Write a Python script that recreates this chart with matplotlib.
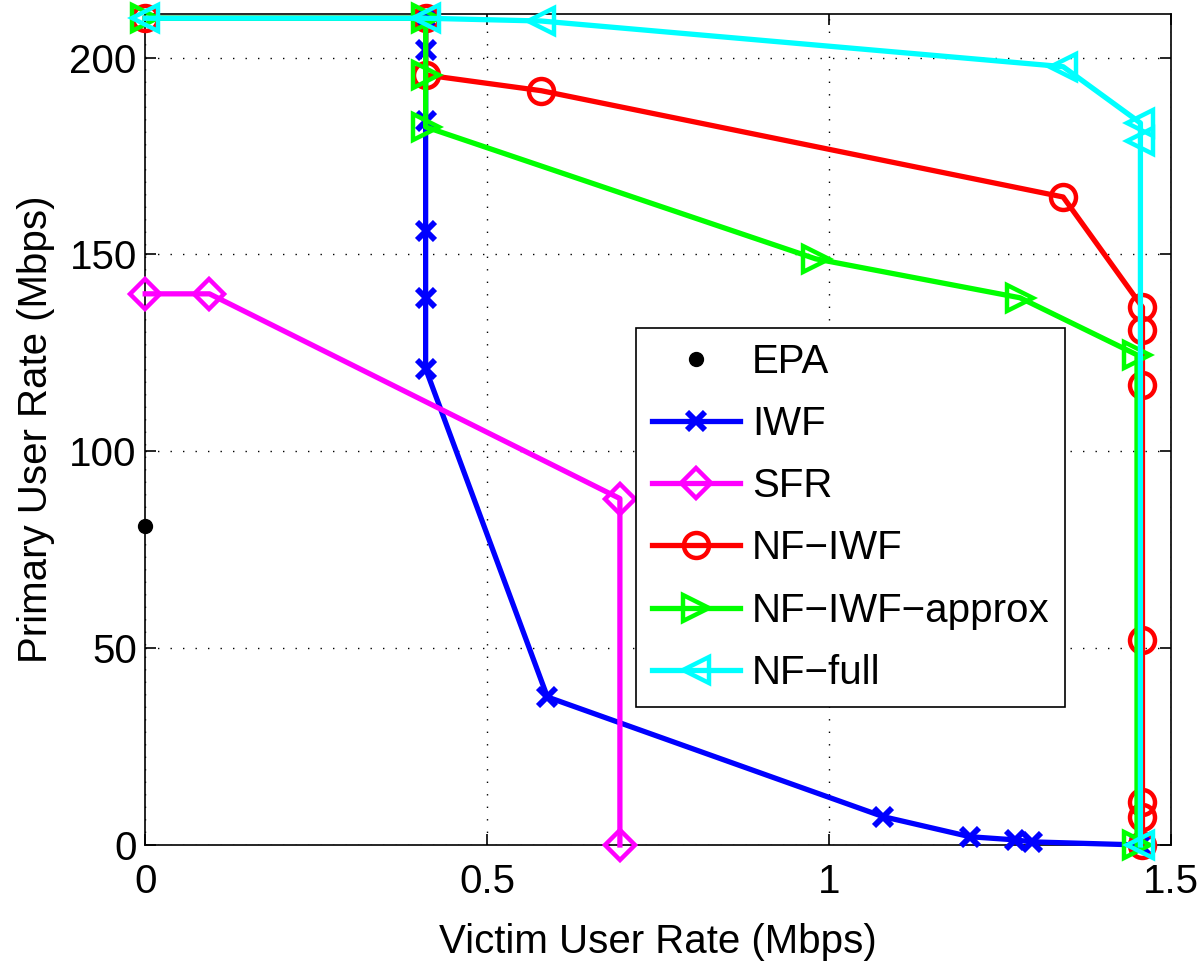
import matplotlib
matplotlib.use("Agg")
import matplotlib.pyplot as plt

plt.rcParams['font.family'] = ['Liberation Sans', 'DejaVu Sans']

epa_x = [0.0]
epa_y = [81]

iwf_x = [0.41, 0.41, 0.41, 0.41, 0.41, 0.41, 0.588, 1.079, 1.206, 1.272, 1.296, 1.455]
iwf_y = [210, 202, 184, 156, 139, 121, 37.6, 7.2, 2.1, 1.3, 0.8, 0.0]

sfr_x = [0.0, 0.094, 0.694, 0.694]
sfr_y = [140, 140, 88, 0]

nfiwf_x = [0.0, 0.41, 0.41, 0.579, 1.342, 1.458, 1.458, 1.458, 1.458, 1.458, 1.458, 1.458]
nfiwf_y = [210, 210, 195.6, 191.6, 164.6, 136.6, 130.8, 116.9, 52, 10.8, 7.2, 0.0]

approx_x = [0.0, 0.41, 0.41, 0.41, 0.98, 1.279, 1.45, 1.45]
approx_y = [210, 210, 195.6, 182.4, 148.9, 139, 124.5, 0.0]

full_x = [0.0, 0.41, 0.579, 1.342, 1.455, 1.455, 1.455]
full_y = [210, 210, 209.3, 197.7, 183.4, 178.8, 0.0]

labels = ['EPA', 'IWF', 'SFR', 'NF\u2212IWF', 'NF\u2212IWF\u2212approx', 'NF\u2212full']
xticks = [0, 0.5, 1, 1.5]
xticklabels = ['0', '0.5', '1', '1.5']
yticks = [0, 50, 100, 150, 200]

fig = plt.figure(figsize=(12, 9.61), dpi=100)
ax = fig.add_axes([0.121, 0.1207, 0.855, 0.8644])

fs = 29
lw = 3.8
mew = 3.2
common = dict(clip_on=False, zorder=3)
ax.plot(epa_x, epa_y, 'o', color='black', markersize=10, label=labels[0], **common)
ax.plot(iwf_x, iwf_y, '-x', color='#0000ff', lw=lw, markersize=13, mew=mew + 1, label=labels[1], **common)
ax.plot(sfr_x, sfr_y, '-D', color='#ff00ff', lw=lw, markersize=15, mew=mew, mfc='none', label=labels[2], **common)
ax.plot(nfiwf_x, nfiwf_y, '-o', color='#ff0000', lw=lw, markersize=18, mew=mew, mfc='none', label=labels[3], **common)
ax.plot(approx_x, approx_y, '->', color='#00ff00', lw=lw, markersize=19, mew=mew, mfc='none', label=labels[4], **common)
ax.plot(full_x, full_y, '-<', color='#00ffff', lw=lw, markersize=19, mew=mew, mfc='none', label=labels[5], **common)

ax.set_xlim(0, 1.5)
ax.set_ylim(0, 211)
ax.set_xticks(xticks)
ax.set_xticklabels(xticklabels)
ax.set_yticks(yticks)
ax.tick_params(direction='in', length=8, width=1.2, labelsize=fs, top=True, right=True)
ax.tick_params(axis='x', pad=13)
ax.tick_params(axis='y', pad=6)
for s in ax.spines.values():
    s.set_linewidth(1.2)
ax.grid(True, color='black', linestyle=(0, (1, 8)), linewidth=1.0)
ax.set_axisbelow(True)

ax.set_xlabel('Victim User Rate (Mbps)', fontsize=fs, labelpad=16)
ax.set_ylabel('Primary User Rate (Mbps)', fontsize=fs, labelpad=10)

leg = ax.legend(loc='lower left', bbox_to_anchor=(0.4786, 0.166), fontsize=fs,
                frameon=True, fancybox=False, edgecolor='black', framealpha=1,
                handlelength=2.2, labelspacing=0.6, borderpad=0.38, handletextpad=0.3,
                borderaxespad=0)
leg.get_frame().set_linewidth(1.2)

fig.savefig('out.png', dpi=100)
